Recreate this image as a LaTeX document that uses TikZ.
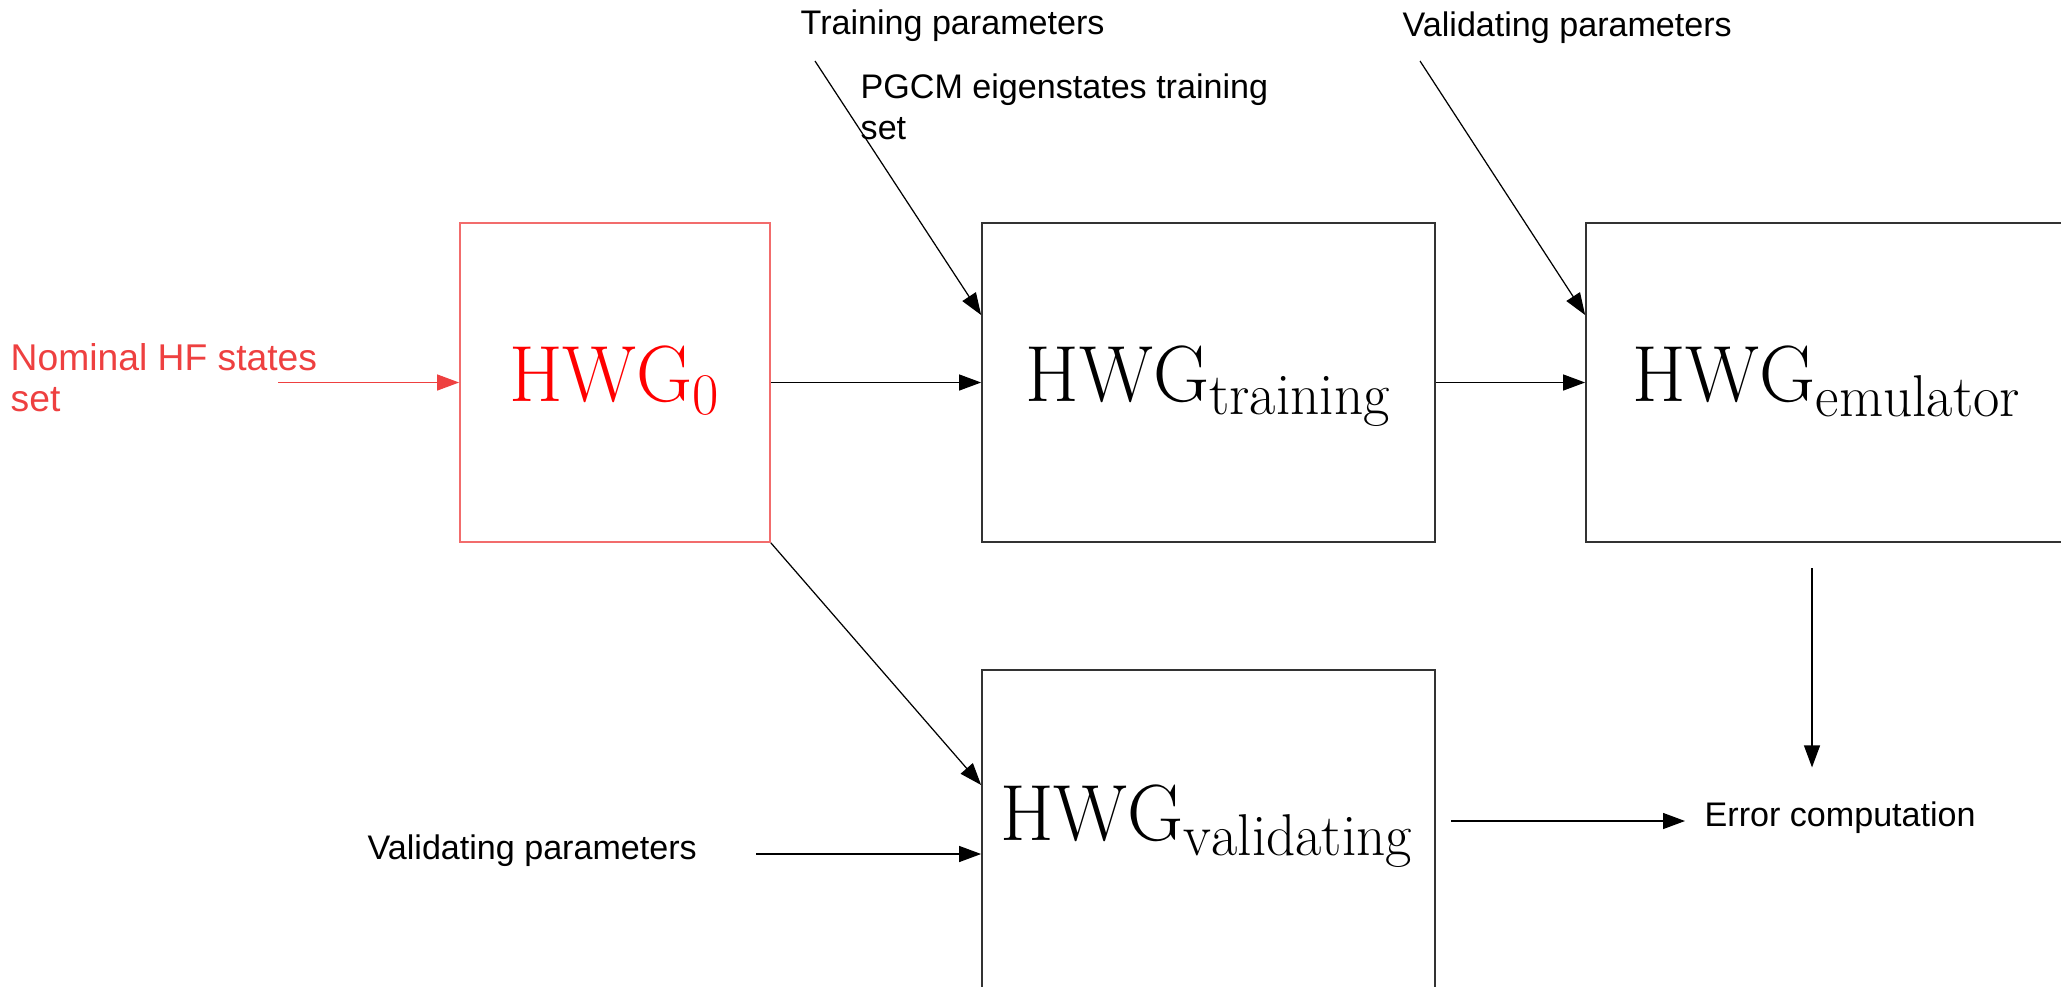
\documentclass[tikz,border=0pt]{standalone}
\usepackage{fontspec}
\newfontfamily\labelfont{Liberation Sans}
\usetikzlibrary{arrows.meta}

\definecolor{nomred}{RGB}{238,64,64}
\definecolor{boxred}{RGB}{242,108,108}

% block label HWG_{...}, large subscript
\DeclareMathSizes{22}{22}{16.3}{11}
\newcommand{\hwg}[1]{\scalebox{1}[1.03]{\fontsize{22}{26}\selectfont$\mathrm{HWG}_{\mathrm{#1}}$}}

\begin{document}
\begin{tikzpicture}[
    block/.style={draw=black!80, line width=0.5pt, inner sep=0pt, minimum height=3.19cm, text height=15pt, text depth=4pt},
    txt/.style={font=\labelfont\fontsize{9.7}{11.5}\selectfont, inner sep=0pt, anchor=west, align=left},
    flow/.style={-{Triangle[length=2.2mm, width=1.6mm]}, line width=0.35pt}
]
    % page: 1 cm = 100 px of the sketch
    \clip (0,0) rectangle (20.61,9.86);

    % Blocks
    \node[block, draw=boxred, text=red, minimum width=3.10cm] (hwg0) at (6.15, 6.035) {\hwg{0}};
    \node[block, minimum width=4.53cm] (train) at (12.085, 6.035) {\hwg{training}};
    \node[block, minimum width=4.82cm] (emu) at (18.27, 6.035) {\hwg{emulator}};
    % validating block runs off the bottom of the page
    \node[block, minimum width=4.53cm, minimum height=3.47cm, anchor=north] (valid) at (12.085, 3.17) {};
    \node[anchor=base] (vlbl) at (12.07, 1.46) {\hwg{validating}};

    % Texts
    \node[txt, text=nomred, font=\labelfont\fontsize{10.6}{11.6}\selectfont] (nominal) at (0.10, 6.08) {Nominal HF states\\set};
    \node[txt] (trainpar) at (8.00, 9.60) {Training parameters};
    \node[txt] (pgcm) at (8.60, 8.79) {PGCM eigenstates training\\set};
    \node[txt] (validpar) at (14.02, 9.58) {Validating parameters};
    \node[txt] (validpar2) at (3.67, 1.35) {Validating parameters};
    \node[txt] (err) at (17.04, 1.68) {Error computation};

    % Free ends of the connectors
    \coordinate (nomstart) at (2.78, 6.035);
    \coordinate (tpstart) at (8.15, 9.25);
    \coordinate (vpstart) at (14.20, 9.25);
    \coordinate (vp2start) at (7.56, 1.32);
    \coordinate (errstart) at (14.51, 1.65);
    \coordinate (emudown) at (18.12, 4.18);

    % Connectors
    \draw[flow, nomred] (nomstart) -- (hwg0.west);
    \draw[flow] (hwg0.east) -- (train.west);
    \draw[flow] (train.east) -- (emu.west);
    \draw[flow] (tpstart) -- ([yshift=6.75mm]train.west);
    \draw[flow] (vpstart) -- ([yshift=6.75mm]emu.west);
    \draw[flow] (hwg0.south east) -- ([yshift=-11.6mm]valid.north west);
    \draw[flow] (vp2start) -- (vp2start -| valid.west);
    \draw[flow, shorten >=1.9mm] (errstart) -- (errstart -| err.west);
    \draw[flow, shorten >=3.4mm] (emudown) -- (emudown |- err.north);

\end{tikzpicture}
\end{document}
